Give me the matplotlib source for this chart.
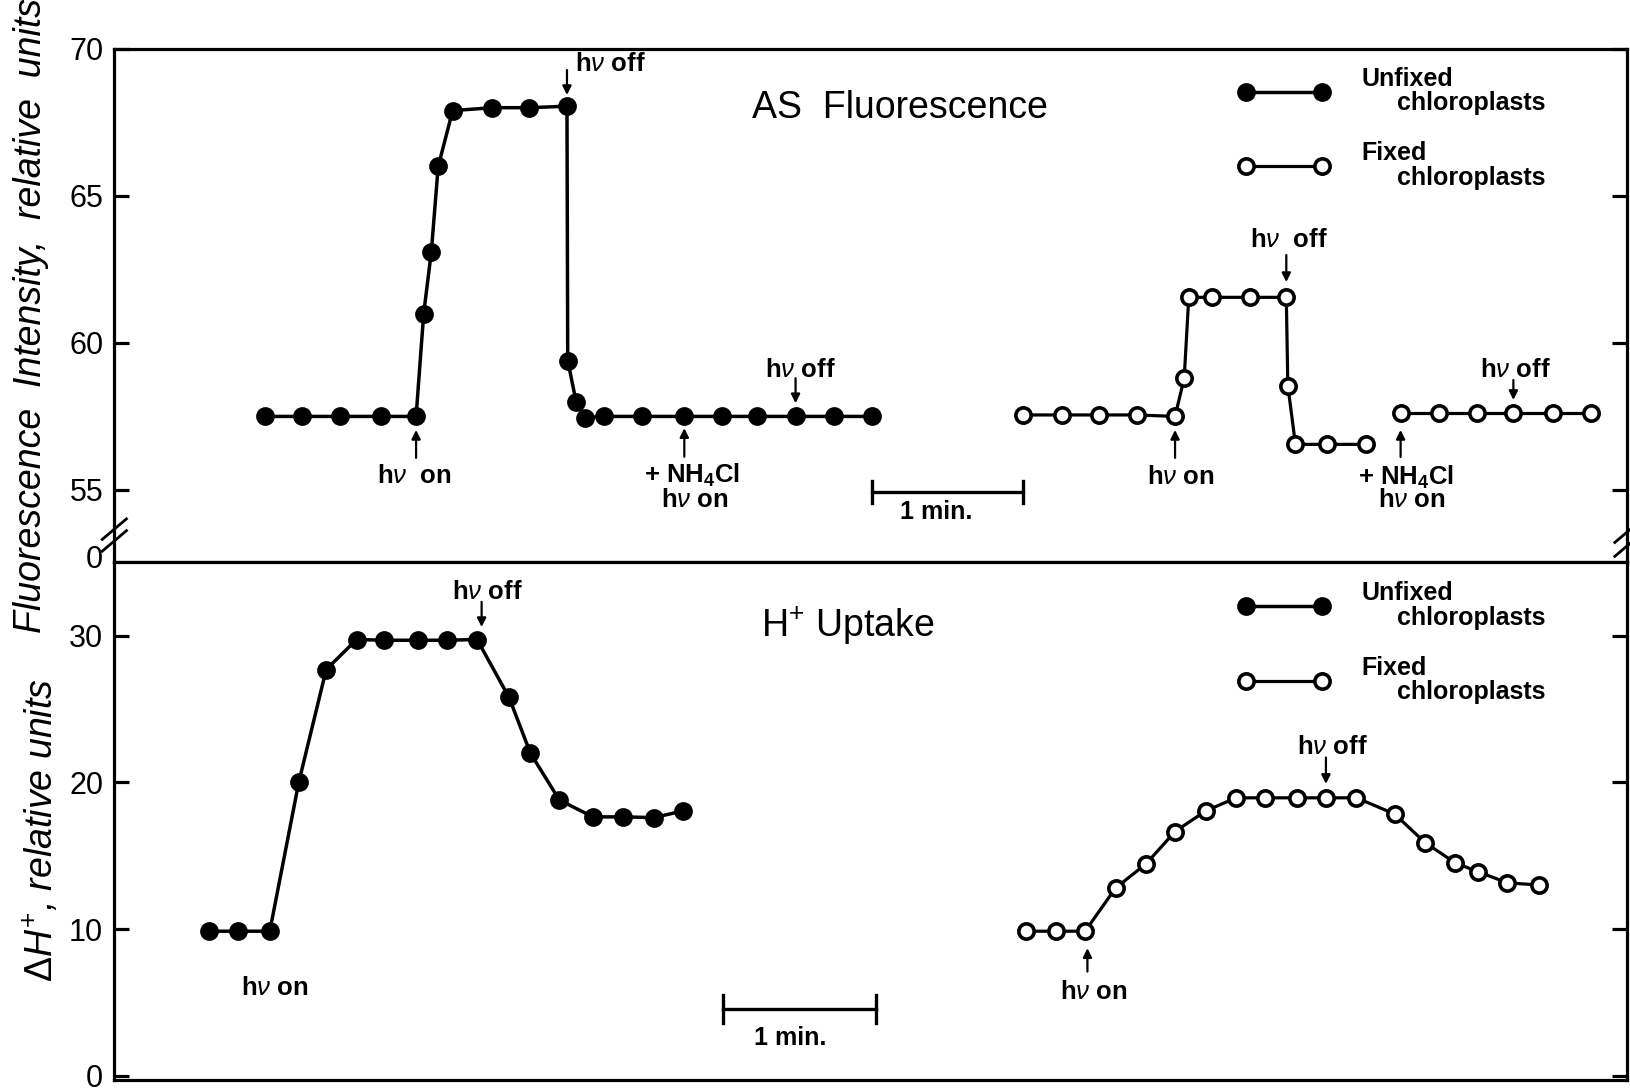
import matplotlib
matplotlib.use("Agg")
import matplotlib.pyplot as plt

plt.rcParams['font.family'] = ['Liberation Sans', 'DejaVu Sans']
plt.rcParams['mathtext.fontset'] = 'custom'
plt.rcParams['mathtext.rm'] = 'Liberation Sans'
plt.rcParams['mathtext.it'] = 'Liberation Sans:italic'
plt.rcParams['mathtext.bf'] = 'Liberation Sans:bold'

# AS fluorescence (time in min, relative units)
fl_unfixed_t = [0.99, 1.23, 1.48, 1.75, 1.98, 2.03, 2.08, 2.125, 2.22, 2.48, 2.72, 2.97,
                2.975, 3.03, 3.09, 3.21, 3.46, 3.74, 3.99, 4.22, 4.47, 4.72, 4.97]
fl_unfixed_y = [57.5, 57.5, 57.5, 57.5, 57.5, 61.0, 63.1, 66.0, 67.9, 68.0, 68.0, 68.05,
                59.4, 58.0, 57.45, 57.5, 57.5, 57.5, 57.5, 57.5, 57.5, 57.5, 57.5]
fl_fixed_t = [5.96, 6.22, 6.46, 6.71, 6.96, 7.02, 7.05, 7.20, 7.45, 7.69, 7.70, 7.75, 7.96, 8.21]
fl_fixed_y = [57.55, 57.55, 57.55, 57.55, 57.5, 58.8, 61.55, 61.55, 61.55, 61.55,
              58.55, 56.55, 56.55, 56.55]
fl_fixed_nh4_t = [8.44, 8.69, 8.94, 9.18, 9.44, 9.69]
fl_fixed_nh4_y = [57.6, 57.6, 57.6, 57.6, 57.6, 57.6]

# H+ uptake
h_unfixed_t = [0.62, 0.81, 1.02, 1.21, 1.39, 1.59, 1.77, 1.99, 2.18, 2.38, 2.59, 2.73,
               2.92, 3.14, 3.34, 3.54, 3.73]
h_unfixed_y = [9.85, 9.85, 9.85, 20.0, 27.7, 29.75, 29.7, 29.7, 29.7, 29.75, 25.8, 22.0,
               18.8, 17.65, 17.65, 17.6, 18.05]
h_fixed_t = [5.98, 6.18, 6.37, 6.57, 6.77, 6.96, 7.16, 7.36, 7.55, 7.76, 7.95, 8.15,
             8.40, 8.60, 8.80, 8.95, 9.14, 9.35]
h_fixed_y = [9.85, 9.85, 9.85, 12.8, 14.45, 16.65, 18.05, 18.95, 18.95, 18.95, 18.95,
             18.95, 17.85, 15.9, 14.5, 13.9, 13.15, 13.0]

legend_labels = ['Unfixed\n     chloroplasts', 'Fixed\n     chloroplasts']

filled = dict(color='black', lw=2.5, marker='o', ms=12, mfc='black', mec='black', mew=1.5)
hollow = dict(color='black', lw=2.3, marker='o', ms=11, mfc='white', mec='black', mew=2.6)
note = dict(fontsize=18.5, fontweight='bold', ha='center', va='center')
arrow = dict(arrowstyle='-|>', lw=1.6, color='black', mutation_scale=13, shrinkA=0, shrinkB=0)


def mark(ax, x, tail, tip):
    ax.annotate('', xy=(x, tip), xytext=(x, tail), arrowprops=arrow)


def scale_bar(ax, x0, x1, y, half):
    ax.plot([x0, x1], [y, y], color='black', lw=2.4)
    ax.plot([x0, x0], [y - half, y + half], color='black', lw=2.4)
    ax.plot([x1, x1], [y - half, y + half], color='black', lw=2.4)


def style(ax):
    ax.set_xlim(0, 9.925)
    for s in ax.spines.values():
        s.set_linewidth(2.3)
    ax.tick_params(axis='y', direction='in', length=11, width=2.3, labelsize=22,
                   pad=8, left=True, right=True)
    ax.tick_params(axis='x', bottom=False, labelbottom=False)


def add_legend(ax, handles, anchor):
    leg = ax.legend(handles, legend_labels, loc='upper left', bbox_to_anchor=anchor,
                    frameon=False, numpoints=2, handlelength=3.64, handletextpad=1.3,
                    borderpad=0, borderaxespad=0, labelspacing=1.05,
                    prop={'weight': 'bold', 'size': 18})
    for txt in leg.get_texts():
        txt.set_linespacing(1.02)
    return leg


fig = plt.figure(figsize=(16.31, 10.91), dpi=100)
ax1 = fig.add_axes([0.0701, 0.4849, 0.9274, 0.4703])
ax2 = fig.add_axes([0.0701, 0.0101, 0.9274, 0.4748])

# --- top panel: fluorescence ---
l1, = ax1.plot(fl_unfixed_t, fl_unfixed_y, **filled)
l2, = ax1.plot(fl_fixed_t, fl_fixed_y, **hollow)
ax1.plot(fl_fixed_nh4_t, fl_fixed_nh4_y, **hollow)
style(ax1)
ax1.set_ylim(52.55, 70)
ax1.set_yticks([55, 60, 65, 70])

t, y = fl_unfixed_t, fl_unfixed_y
mark(ax1, t[4], y[4] - 1.41, y[4] - 0.46)
ax1.text(t[4] - 0.01, y[4] - 2.03, r'h$\nu$  on', **note)
mark(ax1, t[11], y[11] + 1.23, y[11] + 0.38)
ax1.text(t[11] + 0.05, 69.47, r'h$\nu$ off', fontsize=18.5, fontweight='bold',
         ha='left', va='center')
mark(ax1, t[17], y[17] - 1.37, y[17] - 0.4)
ax1.text(t[17] + 0.05, y[17] - 2.01, r'+ NH$_\mathbf{4}$Cl', **note)
ax1.text(t[17] + 0.07, y[17] - 2.85, r'h$\nu$ on', **note)
mark(ax1, t[20], y[20] + 1.3, y[20] + 0.45)
ax1.text(t[20] + 0.03, y[20] + 1.58, r'h$\nu$ off', **note)

t, y = fl_fixed_t, fl_fixed_y
mark(ax1, t[4], y[4] - 1.41, y[4] - 0.46)
ax1.text(t[4] + 0.04, y[4] - 2.06, r'h$\nu$ on', **note)
mark(ax1, t[9], y[9] + 1.44, y[9] + 0.52)
ax1.text(t[9] + 0.02, y[9] + 1.95, r'h$\nu$  off', **note)
t, y = fl_fixed_nh4_t, fl_fixed_nh4_y
mark(ax1, t[0], y[0] - 1.48, y[0] - 0.56)
ax1.text(t[0] + 0.035, y[0] - 2.16, r'+ NH$_\mathbf{4}$Cl', **note)
ax1.text(t[0] + 0.075, y[0] - 2.94, r'h$\nu$ on', **note)
mark(ax1, t[3], y[3] + 1.14, y[3] + 0.46)
ax1.text(t[3] + 0.01, y[3] + 1.48, r'h$\nu$ off', **note)

scale_bar(ax1, 4.97, 5.965, 54.93, 0.39)
ax1.text(5.39, 54.25, '1 min.', fontsize=18, fontweight='bold', ha='center', va='center')
ax1.text(5.157, 67.99, 'AS  Fluorescence', fontsize=27, ha='center', va='center')

ax1.text(-0.0075, 0.004, '0', transform=ax1.transAxes, fontsize=22, ha='right', va='center')

# broken-axis marks
for x, ys in [(0.0, (0.064, 0.041)), (1.0, (0.058, 0.031))]:
    for yc in ys:
        ax1.plot([x - 0.008, x + 0.008], [yc - 0.02, yc + 0.02], transform=ax1.transAxes,
                 color='black', lw=2.0, clip_on=False)

add_legend(ax1, [l1, l2], (0.743, 0.965))

# --- bottom panel: H+ uptake ---
l3, = ax2.plot(h_unfixed_t, h_unfixed_y, **filled)
l4, = ax2.plot(h_fixed_t, h_fixed_y, **hollow)
style(ax2)
ax2.set_ylim(-0.3, 35.04)
ax2.set_yticks([0, 10, 20, 30])

t, y = h_unfixed_t, h_unfixed_y
ax2.text(t[2] + 0.03, y[2] - 3.85, r'h$\nu$ on', **note)
mark(ax2, t[9] + 0.03, y[9] + 2.57, y[9] + 0.85)
ax2.text(t[9] + 0.07, y[9] + 3.25, r'h$\nu$ off', **note)

t, y = h_fixed_t, h_fixed_y
mark(ax2, t[2] + 0.015, y[2] - 2.75, y[2] - 1.16)
ax2.text(t[2] + 0.06, y[2] - 4.12, r'h$\nu$ on', **note)
mark(ax2, t[10], y[10] + 2.75, y[10] + 0.95)
ax2.text(t[10] + 0.04, y[10] + 3.44, r'h$\nu$ off', **note)

scale_bar(ax2, 3.993, 4.996, 4.56, 0.96)
ax2.text(4.436, 2.58, '1 min.', fontsize=18, fontweight='bold', ha='center', va='center')
ax2.text(4.81, 30.66, r'H$^{+}$ Uptake', fontsize=27, ha='center', va='center')

add_legend(ax2, [l3, l4], (0.743, 0.963))

fig.text(0.019, 0.711, 'Fluorescence  Intensity,  relative  units', rotation=90,
         style='italic', fontsize=27, ha='center', va='center')
fig.text(0.0255, 0.239, r'$\Delta H^{+}$, relative units', rotation=90,
         style='italic', fontsize=27, ha='center', va='center')

fig.savefig('out.png', dpi=100)
